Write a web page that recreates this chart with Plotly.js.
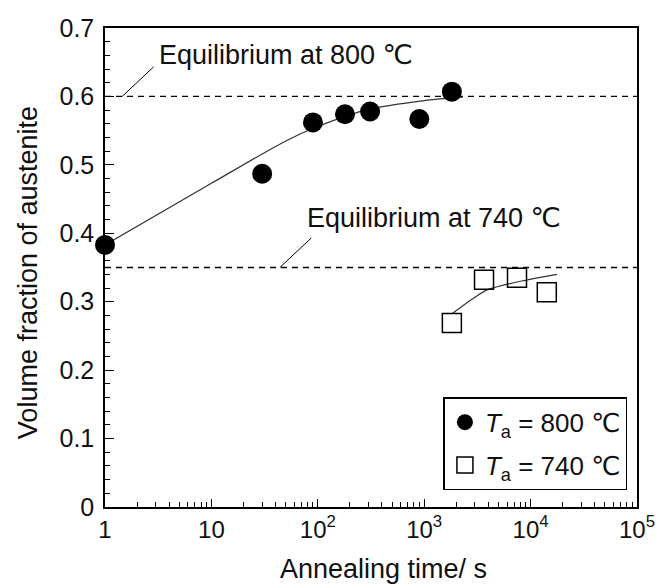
<!DOCTYPE html>
<html><head><meta charset="utf-8">
<script src="https://cdn.plot.ly/plotly-3.0.1.min.js"></script>
<style>html,body{margin:0;padding:0;background:#fff}</style>
</head><body><div id="chart" style="width:659px;height:588px"></div>
<script>
// Data
const time800 = [1, 30, 90, 180, 310, 900, 1820];
const frac800 = [0.383, 0.487, 0.562, 0.574, 0.578, 0.567, 0.607];
const time740 = [1820, 3650, 7450, 14200];
const frac740 = [0.269, 0.332, 0.335, 0.314];
// Fitted trend curves
const fitTime800 = [1, 10, 50, 100, 300, 1000, 2300];
const fitFrac800 = [0.383, 0.473, 0.535, 0.556, 0.581, 0.594, 0.599];
const fitTime740 = [1850, 2900, 4000, 9300, 17700];
const fitFrac740 = [0.283, 0.305, 0.318, 0.332, 0.340];
// Equilibrium levels
const eqLabels = ["Equilibrium at 800 ℃", "Equilibrium at 740 ℃"];
const eqValues = [0.6, 0.35];
const eqPointerTime = [1.45, 44];
const eqLabelTime = [3.1, 76];
const eqLabelY = [0.66, 0.422];
const xTickVals = [1, 10, 100, 1000, 10000, 100000];
const xTickText = ["1", "10", "10<sup>2</sup>", "10<sup>3</sup>", "10<sup>4</sup>", "10<sup>5</sup>"];
const legendNames = ["<i>T</i><sub>a</sub> = 800 ℃", "<i>T</i><sub>a</sub> = 740 ℃"];
const xTitle = 'Annealing time/ s';
const yTitle = 'Volume fraction of austenite';

const font = "Liberation Sans, Arial, DejaVu Sans, sans-serif";

const traces = [
  {x: [1, 100000], y: [eqValues[0], eqValues[0]], mode: 'lines', line: {color: '#000', width: 1.3, dash: '6px,5px'}, showlegend: false, hoverinfo: 'skip'},
  {x: [1, 100000], y: [eqValues[1], eqValues[1]], mode: 'lines', line: {color: '#000', width: 1.3, dash: '6px,5px'}, showlegend: false, hoverinfo: 'skip'},
  {x: fitTime800, y: fitFrac800, mode: 'lines', line: {color: '#333', width: 1.2, shape: 'spline', smoothing: 0.8}, showlegend: false},
  {x: fitTime740, y: fitFrac740, mode: 'lines', line: {color: '#333', width: 1.2, shape: 'spline', smoothing: 0.8}, showlegend: false},
  {x: time800, y: frac800, mode: 'markers', name: legendNames[0], legendgroup: 'a', cliponaxis: false, marker: {symbol: 'circle', size: 20, color: '#000'}},
  {x: time740, y: frac740, mode: 'markers', name: legendNames[1], legendgroup: 'b', cliponaxis: false, marker: {symbol: 'square-open', size: 19, color: '#000', line: {width: 1.5}}}
];

const layout = {
  width: 659, height: 588,
  margin: {l: 105, r: 22, t: 28, b: 81},
  paper_bgcolor: '#fff', plot_bgcolor: '#fff',
  font: {family: font, size: 25, color: '#111'},
  showlegend: true,
  legend: {x: 0.982, y: 0.035, xanchor: 'right', yanchor: 'bottom', bordercolor: '#000', borderwidth: 1.5, bgcolor: '#fff', font: {size: 26, family: font}, itemsizing: 'trace', itemwidth: 30, tracegroupgap: 6},
  xaxis: {
    type: 'log', range: [0, 5], tickmode: 'array', tickvals: xTickVals, ticktext: xTickText,
    ticks: 'inside', ticklen: 8, tickwidth: 1.3, tickcolor: '#000',
    showline: true, linecolor: '#000', linewidth: 1.5, mirror: true, showgrid: false, zeroline: false,
    minor: {ticks: 'inside', ticklen: 5, tickcolor: '#000', dtick: 'D1', showgrid: false},
    tickfont: {size: 24, family: font}
  },
  yaxis: {
    range: [0, 0.7], dtick: 0.1, tickformat: '.1~f',
    ticks: 'inside', ticklen: 9, tickwidth: 1.3, tickcolor: '#000',
    showline: true, linecolor: '#000', linewidth: 1.5, mirror: true, showgrid: false, zeroline: false,
    minor: {ticks: 'inside', ticklen: 5, tickcolor: '#000', dtick: 0.02, showgrid: false},
    tickfont: {size: 25, family: font}, ticklabelstandoff: 4
  },
  annotations: [0, 1].map(i => ([
    {x: Math.log10(eqPointerTime[i]), y: eqValues[i], xref: 'x', yref: 'y', text: '', showarrow: true, arrowhead: 0, arrowwidth: 1, arrowcolor: '#000', ax: 33, ay: -31},
    {x: Math.log10(eqLabelTime[i]), y: eqLabelY[i], xref: 'x', yref: 'y', text: eqLabels[i], showarrow: false, xanchor: 'left', yanchor: 'middle', font: {size: 27, family: font}}
  ])).flat().concat([
    {x: 0.523, y: -0.13, xref: 'paper', yref: 'paper', text: xTitle, showarrow: false, xanchor: 'center', yanchor: 'middle', font: {size: 27, family: font}},
    {x: -0.145, y: 0.49, xref: 'paper', yref: 'paper', text: yTitle, textangle: -90, showarrow: false, xanchor: 'center', yanchor: 'middle', font: {size: 27, family: font}}
  ])
};
Plotly.newPlot('chart', traces, layout, {displayModeBar: false});
</script></body></html>
